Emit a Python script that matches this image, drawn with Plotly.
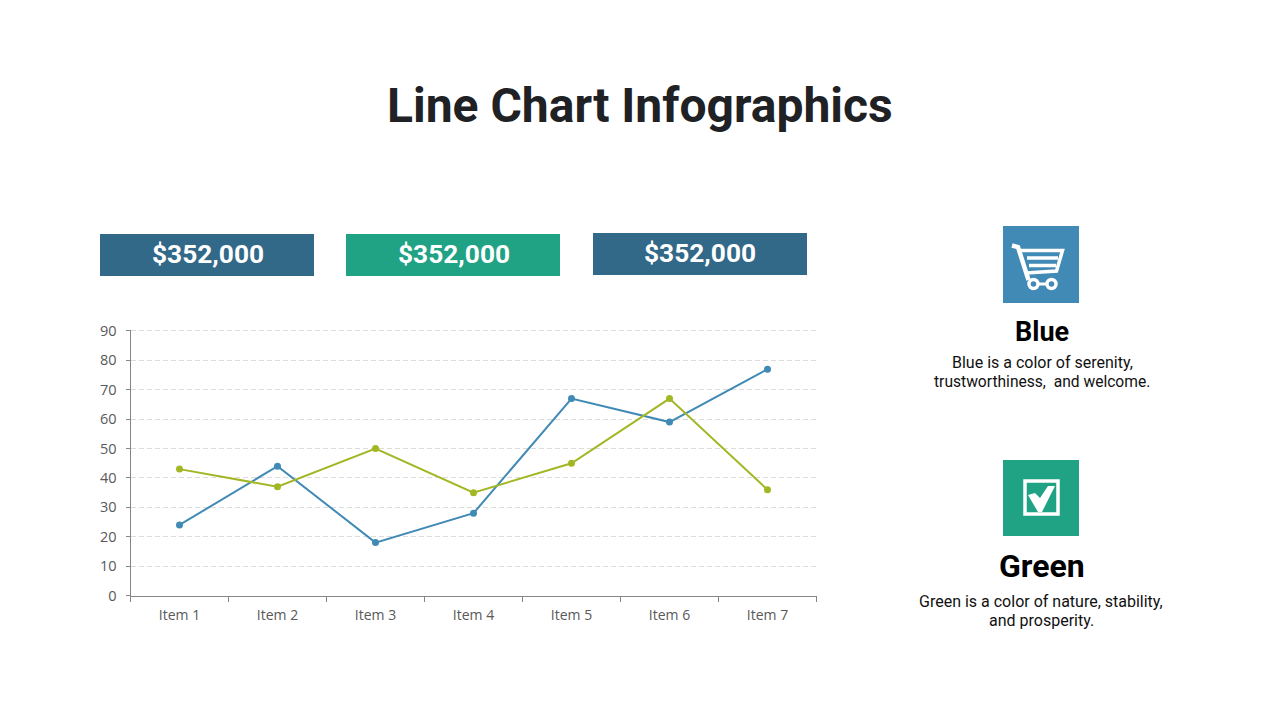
import plotly.graph_objects as go

W = 1280
H = 720

categories = ["Item 1", "Item 2", "Item 3", "Item 4", "Item 5", "Item 6", "Item 7"]
blue_values = [24, 44, 18, 28, 67, 59, 77]
green_values = [43, 37, 50, 35, 45, 67, 36]
y_ticks = [0, 10, 20, 30, 40, 50, 60, 70, 80, 90]

box_labels = ["$352,000", "$352,000", "$352,000"]
blue_title = "Blue"
blue_lines = ["Blue is a color of serenity,", "trustworthiness,  and welcome."]
green_title = "Green"
green_lines = ["Green is a color of nature, stability,", "and prosperity."]

BLUE = "#418ab5"
GREEN = "#a3b725"
DARK_BOX = "#326888"
TEAL = "#20a285"


def px(x):
  return x / W


def py(y):
  return 1 - y / H


def rect(fig, x0, y0, x1, y1, color):
  fig.add_shape(type = "rect", xref = "paper", yref = "paper",
    x0 = px(x0), x1 = px(x1), y0 = py(y0), y1 = py(y1),
    fillcolor = color, line_width = 0, layer = "below")


def text(fig, x, y, label, size, color, bold = False):
  fig.add_annotation(
    text = f"<b>{label}</b>" if bold else label,
    xref = "paper", yref = "paper", x = px(x), y = py(y),
    xanchor = "center", yanchor = "middle", showarrow = False,
    font = dict(family = "Roboto", size = size, color = color)
  )


def path(fig, points, close = False, fill = None, width = 0):
  d = "M " + " L ".join(f"{px(x):.5f},{py(y):.5f}" for x, y in points)
  if close:
    d += " Z"
  fig.add_shape(type = "path", xref = "paper", yref = "paper", path = d,
    fillcolor = fill, line = dict(color = "white", width = width))


fig = go.Figure()

fig.add_trace(go.Scatter(x = categories, y = blue_values, mode = "lines+markers",
  line = dict(color = BLUE, width = 2), marker = dict(color = BLUE, size = 7), showlegend = False))
fig.add_trace(go.Scatter(x = categories, y = green_values, mode = "lines+markers",
  line = dict(color = GREEN, width = 2), marker = dict(color = GREEN, size = 7), showlegend = False))

text(fig, 640, 105, "Line Chart Infographics", 48, "#202124", bold = True)

# value boxes
rect(fig, 100, 234, 314, 276, DARK_BOX)
rect(fig, 346, 234, 560, 276, TEAL)
rect(fig, 593, 233, 807, 275, DARK_BOX)
text(fig, 207.5, 254, box_labels[0], 26.3, "white", bold = True)
text(fig, 453.5, 254, box_labels[1], 26.3, "white", bold = True)
text(fig, 699.5, 253, box_labels[2], 26.3, "white", bold = True)

# cart icon
rect(fig, 1003, 226, 1079, 303, BLUE)
path(fig, [(1012, 245.5), (1018, 247), (1028.5, 280)], width = 4.5)
path(fig, [(1020, 250.5), (1062.5, 250.5), (1056.5, 271), (1026, 273)], width = 3.5)
path(fig, [(1027, 258), (1058, 258)], width = 3.5)
path(fig, [(1029, 265.5), (1056, 265.5)], width = 3.5)
path(fig, [(1033, 284), (1052, 284)], width = 3)
for cx in [1033.5, 1051.5]:
  fig.add_shape(type = "circle", xref = "paper", yref = "paper",
    x0 = px(cx - 4.5), x1 = px(cx + 4.5), y0 = py(288.5), y1 = py(279.5),
    fillcolor = BLUE, line = dict(color = "white", width = 3.5))

# check icon
rect(fig, 1003, 460, 1079, 536, TEAL)
path(fig, [(1025, 481), (1058, 481), (1058, 514), (1025, 514)], close = True, width = 3.5)
path(fig, [(1028, 495), (1035, 493), (1040, 498), (1048, 486), (1055, 486), (1042, 512), (1038, 512)],
  close = True, fill = "white")

text(fig, 1042, 332, blue_title, 27, "black", bold = True)
text(fig, 1042, 362, blue_lines[0], 16, "#111111")
text(fig, 1042, 381.5, blue_lines[1], 15.6, "#111111")
text(fig, 1042, 566, green_title, 32, "black", bold = True)
text(fig, 1041, 601, green_lines[0], 16, "#111111")
text(fig, 1041, 620, green_lines[1], 16, "#111111")

fig.update_layout(
  width = W,
  height = H,
  margin = dict(l = 0, r = 0, t = 0, b = 0, autoexpand = False),
  paper_bgcolor = "white",
  plot_bgcolor = "white",
  xaxis = dict(
    domain = [130.5 / W, 816.5 / W],
    type = "category",
    range = [-0.5, 6.5],
    showgrid = False,
    showline = True,
    linecolor = "#868686",
    linewidth = 1,
    ticks = "outside",
    tickson = "boundaries",
    ticklen = 5,
    tickcolor = "#868686",
    ticklabelstandoff = 7,
    tickfont = dict(family = "Open Sans", size = 14, color = "#595959"),
    zeroline = False
  ),
  yaxis = dict(
    domain = [1 - 595.5 / H, 1 - 329.5 / H],
    range = [0, 90.5], # a bit above 90 so the top gridline is still drawn
    tickmode = "array",
    tickvals = y_ticks,
    showgrid = True,
    gridcolor = "#dcdcdc",
    griddash = "5px,3px",
    gridwidth = 1,
    showline = True,
    linecolor = "#868686",
    linewidth = 1,
    ticks = "outside",
    ticklen = 4,
    tickcolor = "#868686",
    ticklabelstandoff = 6,
    tickfont = dict(family = "Open Sans", size = 14.5, color = "#595959"),
    zeroline = False
  )
)

fig.write_html("out.html", config = dict(displayModeBar = False),
  post_script = "document.body.style.margin = '0';")
